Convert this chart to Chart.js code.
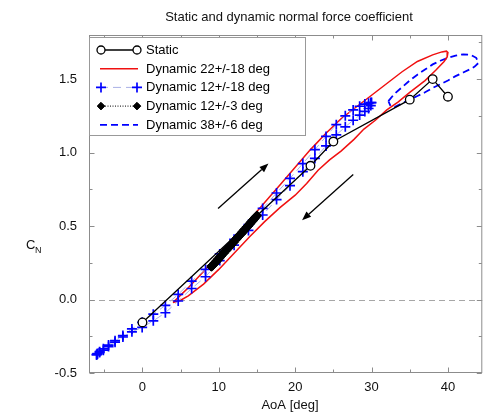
<!DOCTYPE html>
<html>
<head>
<meta charset="utf-8">
<script src="https://cdn.jsdelivr.net/npm/chart.js@4.4.1/dist/chart.umd.min.js"></script>
<style>
html, body { margin: 0; padding: 0; background: #fff; }
</style>
</head>
<body>
<canvas id="cn-chart" width="489" height="418"></canvas>
<script>
const FONT = '"Liberation Sans", Arial, Helvetica, sans-serif';

// axis ticks
const xTicks = [-5, 0, 5, 10, 15, 20, 25, 30, 35, 40];
const yTicks = [-0.5, -0.25, 0, 0.25, 0.5, 0.75, 1, 1.25, 1.5, 1.75];

// static polar
const staticAoA = [0, 22, 25, 35, 38, 40];
const staticCN = [-0.156, 0.91, 1.075, 1.36, 1.50, 1.38];

// dynamic 22 +/- 18 (up then down)
const dyn22AoA = [4, 5, 6, 8, 10, 12, 14, 16, 18, 20, 22, 24, 26, 28, 30, 32, 34, 36, 38, 39.2, 39.8, 40,
    39.9, 39.5, 38.4, 37, 35, 33.5, 32, 30.5, 29, 27.7, 26, 24.5, 23, 21.5, 20, 18, 16, 14, 12, 10, 8, 6, 5, 4];
const dyn22CN = [-0.02, 0.03, 0.08, 0.19, 0.31, 0.42, 0.54, 0.66, 0.78, 0.90, 1.02, 1.13, 1.23, 1.31, 1.39, 1.47, 1.55, 1.62, 1.665, 1.685, 1.69, 1.68,
    1.65, 1.62, 1.56, 1.49, 1.41, 1.345, 1.29, 1.22, 1.16, 1.09, 1.01, 0.95, 0.88, 0.79, 0.71, 0.625, 0.53, 0.425, 0.315, 0.205, 0.105, 0.025, -0.005, -0.02];

// dynamic 12 +/- 18 (markers)
const dyn12AoA = [-6.00, -5.90, -5.61, -5.12, -4.44, -3.59, -2.56, -1.38, -0.04, 1.42, 3.00, 4.68, 6.44, 8.26, 10.12, 12.00,
    13.88, 15.74, 17.56, 19.32, 21.00, 22.58, 24.04, 25.38, 26.56, 27.59, 28.44, 29.12, 29.61, 29.90, 30.00,
    29.90, 29.61, 29.12, 28.44, 27.59, 26.56, 25.38, 24.04, 22.58, 21.00, 19.32, 17.56, 15.74, 13.88, 12.00,
    10.12, 8.26, 6.44, 4.68, 3.00, 1.42, -0.04, -1.38, -2.56, -3.59, -4.44, -5.12, -5.61, -5.90, -6.00];
const dyn12CN = [-0.375, -0.368, -0.355, -0.335, -0.31, -0.28, -0.245, -0.20, -0.155, -0.10, -0.04, 0.035, 0.125, 0.205, 0.31, 0.41,
    0.51, 0.62, 0.725, 0.825, 0.925, 1.02, 1.11, 1.19, 1.25, 1.29, 1.315, 1.33, 1.335, 1.34, 1.34,
    1.32, 1.30, 1.28, 1.255, 1.22, 1.175, 1.12, 1.045, 0.96, 0.87, 0.775, 0.68, 0.575, 0.47, 0.37,
    0.265, 0.155, 0.075, -0.01, -0.09, -0.145, -0.19, -0.22, -0.255, -0.29, -0.32, -0.345, -0.36, -0.37, -0.375];

// dynamic 12 +/- 3
const dyn3AoA = [9.0, 9.05, 9.2, 9.4, 9.6, 9.85, 10.1, 10.4, 10.7, 11.0, 11.35, 11.7, 12.0, 12.3, 12.65, 13.0, 13.3, 13.6, 13.9, 14.15, 14.4, 14.6, 14.8, 14.95, 15.0,
    14.95, 14.8, 14.6, 14.4, 14.15, 13.9, 13.6, 13.3, 13.0, 12.65, 12.3, 12.0, 11.7, 11.35, 11.0, 10.7, 10.4, 10.1, 9.85, 9.6, 9.4, 9.2, 9.05, 9.0];
const dyn3CN = [0.225, 0.229, 0.237, 0.249, 0.26, 0.275, 0.29, 0.307, 0.325, 0.342, 0.362, 0.382, 0.4, 0.418, 0.438, 0.458, 0.476, 0.494, 0.511, 0.526, 0.54, 0.552, 0.563, 0.571, 0.574,
    0.566, 0.556, 0.543, 0.531, 0.516, 0.5, 0.483, 0.465, 0.448, 0.428, 0.408, 0.39, 0.373, 0.352, 0.333, 0.316, 0.298, 0.28, 0.266, 0.252, 0.24, 0.229, 0.222, 0.225];

// dynamic 38 +/- 6
const dyn38AoA = [32.2, 33, 34, 35, 36, 37, 38, 39, 40, 41, 42, 43, 43.7, 44,
    43.5, 43, 42, 41, 40, 39, 38, 37, 36, 35, 34, 33, 32.5, 32.2];
const dyn38CN = [1.35, 1.40, 1.445, 1.49, 1.53, 1.565, 1.60, 1.625, 1.645, 1.66, 1.668, 1.665, 1.645, 1.61,
    1.585, 1.57, 1.545, 1.52, 1.49, 1.465, 1.44, 1.41, 1.385, 1.36, 1.335, 1.31, 1.315, 1.35];

// direction arrows (data coords)
const arrowFrom = [[9.9, 0.62], [27.6, 0.85]];
const arrowTo = [[16.5, 0.925], [20.9, 0.54]];

const legendLabels = ['Static', 'Dynamic 22+/-18 deg', 'Dynamic 12+/-18 deg', 'Dynamic 12+/-3 deg', 'Dynamic 38+/-6 deg'];

const pts = (xs, ys) => xs.map((v, i) => ({ x: v, y: ys[i] }));

const datasets = [
    {
        label: legendLabels[0], data: pts(staticAoA, staticCN), showLine: true, order: 1,
        borderColor: '#000', borderWidth: 1.3,
        pointStyle: 'circle', pointRadius: 4.3, pointBorderWidth: 1.3,
        pointBackgroundColor: '#fff', pointBorderColor: '#000'
    },
    {
        label: legendLabels[1], data: pts(dyn22AoA, dyn22CN), showLine: true, order: 4,
        borderColor: '#f01010', borderWidth: 1.5, pointRadius: 0
    },
    {
        label: legendLabels[2], data: pts(dyn12AoA, dyn12CN), showLine: true, order: 3,
        borderColor: '#a9b0e6', borderWidth: 1, borderDash: [8, 5],
        pointStyle: 'cross', pointRadius: 5, pointBorderWidth: 1.7,
        pointBorderColor: '#0000ff', pointBackgroundColor: '#0000ff'
    },
    {
        label: legendLabels[3], data: pts(dyn3AoA, dyn3CN), showLine: true, order: 2,
        borderColor: '#000', borderWidth: 1, borderDash: [1, 1.5],
        pointStyle: 'rectRot', pointRadius: 4.3, pointBorderWidth: 1,
        pointBorderColor: '#000', pointBackgroundColor: '#000'
    },
    {
        label: legendLabels[4], data: pts(dyn38AoA, dyn38CN), showLine: true, order: 5,
        borderColor: '#0000ff', borderWidth: 1.8, borderDash: [7, 4], pointRadius: 0
    }
];

function drawArrow(ctx, x1, y1, x2, y2) {
    const ang = Math.atan2(y2 - y1, x2 - x1);
    const hl = 9, hw = 3.5;
    ctx.beginPath();
    ctx.moveTo(x1, y1);
    ctx.lineTo(x2 - hl * Math.cos(ang), y2 - hl * Math.sin(ang));
    ctx.stroke();
    ctx.beginPath();
    ctx.moveTo(x2, y2);
    ctx.lineTo(x2 - hl * Math.cos(ang) + hw * Math.sin(ang), y2 - hl * Math.sin(ang) - hw * Math.cos(ang));
    ctx.lineTo(x2 - hl * Math.cos(ang) - hw * Math.sin(ang), y2 - hl * Math.sin(ang) + hw * Math.cos(ang));
    ctx.closePath();
    ctx.fill();
}

function drawMarker(ctx, ds, x, y, r) {
    if (!ds.pointRadius) return;
    ctx.save();
    ctx.setLineDash([]);
    ctx.fillStyle = ds.pointBackgroundColor;
    ctx.strokeStyle = ds.pointBorderColor;
    ctx.lineWidth = ds.pointBorderWidth;
    Chart.helpers.drawPoint(ctx, { pointStyle: ds.pointStyle, radius: r || ds.pointRadius, borderWidth: ds.pointBorderWidth, rotation: 0 }, x, y);
    ctx.restore();
}

const decor = {
    id: 'decor',
    beforeDatasetsDraw(chart) {
        const { ctx, chartArea: a, scales: { y } } = chart;
        const y0 = Math.round(y.getPixelForValue(0)) + 0.5;
        ctx.save();
        ctx.strokeStyle = '#a6a6a6';
        ctx.lineWidth = 1;
        ctx.setLineDash([6, 4]);
        ctx.beginPath();
        ctx.moveTo(a.left, y0);
        ctx.lineTo(a.right, y0);
        ctx.stroke();
        ctx.restore();
    },
    afterDatasetsDraw(chart) {
        const { ctx, chartArea: a, scales: { x, y } } = chart;
        ctx.save();

        // arrows
        ctx.strokeStyle = '#000';
        ctx.fillStyle = '#000';
        ctx.lineWidth = 1.3;
        arrowFrom.forEach((p, i) => {
            drawArrow(ctx, x.getPixelForValue(p[0]), y.getPixelForValue(p[1]),
                x.getPixelForValue(arrowTo[i][0]), y.getPixelForValue(arrowTo[i][1]));
        });

        // frame and inward ticks
        ctx.strokeStyle = '#8c8c8c';
        ctx.lineWidth = 1;
        const L = a.left + 0.5, R = a.right - 0.5, T = a.top + 0.5, B = a.bottom - 0.5;
        ctx.strokeRect(L, T, R - L, B - T);
        ctx.beginPath();
        xTicks.forEach(v => {
            const px = Math.round(x.getPixelForValue(v)) + 0.5;
            const len = v % 10 === 0 ? 5 : 3;
            ctx.moveTo(px, B); ctx.lineTo(px, B - len);
            ctx.moveTo(px, T); ctx.lineTo(px, T + len);
        });
        yTicks.forEach(v => {
            const py = Math.round(y.getPixelForValue(v)) + 0.5;
            const len = Math.abs(v * 2 - Math.round(v * 2)) < 1e-9 ? 5 : 3;
            ctx.moveTo(L, py); ctx.lineTo(L + len, py);
            ctx.moveTo(R, py); ctx.lineTo(R - len, py);
        });
        ctx.stroke();

        // legend
        const lx = 89.5, ly = 37.5, lw = 216, lh = 98;
        ctx.fillStyle = '#fff';
        ctx.fillRect(lx, ly, lw, lh);
        ctx.strokeStyle = '#999';
        ctx.strokeRect(lx, ly, lw, lh);
        ctx.font = '13px ' + FONT;
        ctx.textBaseline = 'middle';
        ctx.textAlign = 'left';
        chart.data.datasets.forEach((ds, i) => {
            const ry = 50 + i * 18.7;
            ctx.save();
            ctx.strokeStyle = ds.borderColor;
            ctx.lineWidth = ds.borderWidth;
            ctx.setLineDash(ds.borderDash || []);
            ctx.beginPath();
            ctx.moveTo(100, ry);
            ctx.lineTo(138, ry);
            ctx.stroke();
            ctx.restore();
            const r = ds.pointStyle === 'rectRot' ? 3.8 : ds.pointStyle === 'circle' ? 4 : undefined;
            drawMarker(ctx, ds, 101, ry, r);
            drawMarker(ctx, ds, 137, ry, r);
            ctx.fillStyle = '#000';
            ctx.fillText(ds.label, 146, ry + 0.5);
        });

        // titles
        ctx.fillStyle = '#111';
        ctx.textAlign = 'center';
        ctx.fillText('Static and dynamic normal force coefficient', 289, 17);
        ctx.fillText('AoA [deg]', 290, 405);
        ctx.textAlign = 'left';
        ctx.textBaseline = 'alphabetic';
        ctx.fillText('C', 26, 249);
        ctx.font = '9px ' + FONT;
        ctx.fillText('N', 35, 253);
        ctx.restore();
    }
};

new Chart(document.getElementById('cn-chart').getContext('2d'), {
    type: 'scatter',
    data: { datasets: datasets },
    options: {
        responsive: false,
        animation: false,
        devicePixelRatio: 1,
        layout: { padding: { top: 35, right: 2, left: 0, bottom: 0 } },
        plugins: { legend: { display: false }, tooltip: { enabled: false }, title: { display: false } },
        scales: {
            x: {
                type: 'linear', min: -7, max: 44.5,
                grid: { display: false, drawTicks: false },
                border: { display: false },
                afterBuildTicks: s => { s.ticks = xTicks.map(v => ({ value: v })); },
                afterFit: s => { s.height = 45; },
                ticks: {
                    autoSkip: false, maxRotation: 0, padding: 7, color: '#111',
                    font: { family: FONT, size: 13 },
                    callback: v => (v % 10 === 0 ? String(v) : '')
                }
            },
            y: {
                type: 'linear', min: -0.5, max: 1.8,
                grid: { display: false, drawTicks: false },
                border: { display: false },
                afterBuildTicks: s => { s.ticks = yTicks.map(v => ({ value: v })); },
                afterFit: s => { s.width = 89; },
                ticks: {
                    autoSkip: false, padding: 12, color: '#111',
                    font: { family: FONT, size: 13 },
                    callback: v => (Math.abs(v * 2 - Math.round(v * 2)) < 1e-9 ? v.toFixed(1) : '')
                }
            }
        }
    },
    plugins: [decor]
});
</script>
</body>
</html>
